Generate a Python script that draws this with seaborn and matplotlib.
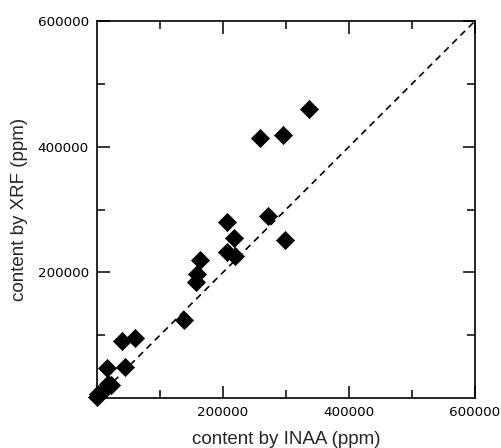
import matplotlib
matplotlib.use("Agg")
import matplotlib.pyplot as plt
import seaborn as sns
import pandas as pd

inaa = [336000, 259000, 295000, 272000, 298000, 207000, 218000, 206000, 219000,
        163000, 159000, 157000, 138000, 39000, 60000, 16000, 45000, 23000, 17000,
        12000, 2000, 0]
xrf = [460000, 414000, 419000, 290000, 251000, 280000, 255000, 232000, 226000,
       220000, 197000, 185000, 124000, 91000, 95000, 48000, 50000, 21000, 23000,
       15000, 7000, 2000]
major_ticks = [200000, 400000, 600000]
minor_ticks = [100000, 300000, 500000]

sns.set_style("ticks")
plt.rcParams['font.family'] = ['Liberation Sans', 'DejaVu Sans']

df = pd.DataFrame({"INAA": inaa, "XRF": xrf})

fig = plt.figure(figsize=(5.01, 4.48), dpi=100)
ax = fig.add_axes([97/501, 1-398/448, 378/501, 377/448])

ax.plot([0, 600000], [0, 600000], color="black", linestyle=(0, (4, 3)), linewidth=1.2, zorder=1)
sns.scatterplot(data=df, x="INAA", y="XRF", marker="D", s=85, color="black",
                edgecolor="black", linewidth=0.5, ax=ax, zorder=3, clip_on=False)

ax.set_xlim(0, 600000)
ax.set_ylim(0, 600000)
ax.set_xticks(major_ticks)
ax.set_yticks(major_ticks)
ax.set_xticks(minor_ticks, minor=True)
ax.set_yticks(minor_ticks, minor=True)
ax.set_xticklabels([str(v) for v in major_ticks], family="DejaVu Sans", fontsize=9.7)
ax.set_yticklabels([str(v) for v in major_ticks], family="DejaVu Sans", fontsize=9.7)
ax.tick_params(which="both", direction="in", top=True, right=True, width=1.1, colors="black")
ax.tick_params(which="major", length=9, pad=6)
ax.tick_params(which="minor", length=5.5)
for sp in ax.spines.values():
    sp.set_linewidth(1.2)
    sp.set_color("black")

ax.set_xlabel("content by INAA (ppm)", fontsize=13.5, va="center")
ax.set_ylabel("content by XRF (ppm)", fontsize=13.5, va="center")
ax.xaxis.set_label_coords(0.5, (398 - 440) / 377)
ax.yaxis.set_label_coords((20 - 97) / 378, 0.5)

fig.savefig("out.png", dpi=100)
